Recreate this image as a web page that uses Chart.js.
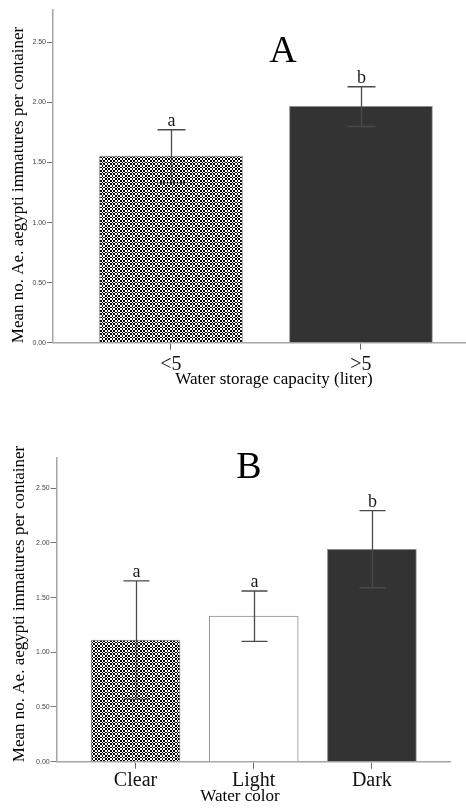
<!DOCTYPE html>
<html><head><meta charset="utf-8">
<script src="https://cdn.jsdelivr.net/npm/chart.js@4.4.1/dist/chart.umd.min.js"></script>
<style>
html,body{margin:0;padding:0;background:#fff;width:466px;height:808px;overflow:hidden}
canvas{position:absolute;left:0}
#cA{top:0}
#cB{top:400px}
</style></head>
<body>
<canvas id="cA" width="466" height="400"></canvas>
<canvas id="cB" width="466" height="408"></canvas>
<script>
// ---- Panel A data ----
const categoriesA = ['<5', '>5'];
const meansA = [1.553, 1.967];
const errLowA = [1.333, 1.800];
const errHighA = [1.773, 2.131];
const lettersA = ['a', 'b'];
const yTicksA = [0, 0.5, 1, 1.5, 2, 2.5];

// ---- Panel B data ----
const categoriesB = ['Clear', 'Light', 'Dark'];
const meansB = [1.112, 1.332, 1.941];
const errLowB = [0.570, 1.100, 1.590];
const errHighB = [1.652, 1.560, 2.294];
const lettersB = ['a', 'a', 'b'];
const yTicksB = [0, 0.5, 1, 1.5, 2, 2.5];

// ---- styles ----
function makeChecker(ctx) {
  const c = document.createElement('canvas');
  c.width = 10; c.height = 10;
  const g = c.getContext('2d');
  g.fillStyle = '#ffffff'; g.fillRect(0, 0, 10, 10);
  g.fillStyle = '#000000';
  const e = [0, 2, 3, 5, 7, 8, 10];
  for (let i = 0; i < 6; i++) for (let j = 0; j < 6; j++) {
    if ((i + j) % 2 === 0) g.fillRect(e[i], e[j], e[i + 1] - e[i], e[j + 1] - e[j]);
  }
  return ctx.createPattern(c, 'repeat');
}

const serif = '"Liberation Serif", "DejaVu Serif", serif';

const annot = {
  id: 'annot',
  afterDatasetsDraw(chart, args, o) {
    const ctx = chart.ctx, xs = chart.scales.x, ys = chart.scales.y;
    ctx.save();
    ctx.strokeStyle = '#4a4a4a';
    ctx.lineWidth = 1.3;
    o.low.forEach((lo, i) => {
      const px = Math.round(xs.getPixelForValue(i)) + 0.5;
      const yt = ys.getPixelForValue(o.high[i]);
      const yb = ys.getPixelForValue(lo);
      ctx.beginPath();
      ctx.moveTo(px, yt); ctx.lineTo(px, yb);
      ctx.moveTo(px - o.cap, yt); ctx.lineTo(px + o.cap, yt);
      ctx.moveTo(px - o.cap, yb); ctx.lineTo(px + o.cap, yb);
      ctx.stroke();
      ctx.fillStyle = '#1a1a1a';
      ctx.font = '18px ' + serif;
      ctx.textAlign = 'center';
      ctx.textBaseline = 'alphabetic';
      ctx.fillText(o.letters[i], px, yt - 4);
    });
    // panel letter
    ctx.fillStyle = '#000';
    ctx.font = '38px ' + serif;
    ctx.textAlign = 'center';
    ctx.textBaseline = 'alphabetic';
    ctx.fillText(o.panel, o.panelX, o.panelY);
    // axis titles
    ctx.font = '17px ' + serif;
    ctx.textBaseline = 'middle';
    ctx.fillText(o.xTitle, o.xTitleX, o.xTitleY);
    ctx.translate(o.yTitleX, o.yTitleY);
    ctx.rotate(-Math.PI / 2);
    ctx.fillText(o.yTitle, 0, 0);
    ctx.restore();
  }
};

function makeChart(id, cfg) {
  const ctx = document.getElementById(id).getContext('2d');
  const pat = makeChecker(ctx);
  const fills = cfg.fillKinds.map(k => k === 'checker' ? pat : k);
  return new Chart(ctx, {
    type: 'bar',
    data: {
      datasets: [{
        data: cfg.means.map((v, i) => ({ x: i, y: v })),
        backgroundColor: fills,
        borderColor: '#8c8c8c',
        borderWidth: 1,
        borderSkipped: 'bottom',
        barThickness: cfg.barThickness
      }]
    },
    options: {
      responsive: false,
      devicePixelRatio: 1,
      animation: false,
      layout: { padding: cfg.padding },
      plugins: {
        legend: { display: false },
        tooltip: { enabled: false },
        annot: {
          low: cfg.low, high: cfg.high, letters: cfg.letters, cap: cfg.cap,
          panel: cfg.panel, panelX: cfg.panelX, panelY: cfg.panelY,
          xTitle: cfg.xTitle, xTitleX: cfg.xTitleX, xTitleY: cfg.xTitleY,
          yTitle: 'Mean no. Ae. aegypti immatures per container',
          yTitleX: cfg.yTitleX, yTitleY: cfg.yTitleY
        }
      },
      scales: {
        x: {
          type: 'linear',
          min: cfg.xMin, max: cfg.xMax,
          offset: false,
          afterBuildTicks: s => { s.ticks = cfg.cats.map((c, i) => ({ value: i })); },
          afterFit: s => { s.height = cfg.xHeight; },
          ticks: {
            callback: v => cfg.cats[v],
            font: { family: serif, size: 20 },
            color: '#111',
            padding: cfg.xTickPad,
            maxRotation: 0, autoSkip: false
          },
          grid: { offset: false, drawOnChartArea: false, drawTicks: true, tickLength: 7, color: '#666', lineWidth: 1 },
          border: { color: '#a5a5a5', width: 1.5 }
        },
        y: {
          min: 0, max: cfg.yMax,
          afterBuildTicks: s => { s.ticks = cfg.yTicks.map(v => ({ value: v })); },
          afterFit: s => { s.width = cfg.yWidth; },
          ticks: {
            callback: v => Number(v).toFixed(2),
            font: { family: '"Liberation Sans", Arial, sans-serif', size: 7 },
            color: '#444',
            padding: 1
          },
          grid: { drawOnChartArea: false, drawTicks: true, tickLength: 6, color: '#777', lineWidth: 1 },
          border: { color: '#a5a5a5', width: 1.5 }
        }
      }
    },
    plugins: [annot]
  });
}

makeChart('cA', {
  cats: categoriesA, means: meansA, low: errLowA, high: errHighA, letters: lettersA, yTicks: yTicksA,
  fillKinds: ['checker', '#333333'],
  barThickness: 143, cap: 14,
  padding: { top: 10, left: 0, right: 0, bottom: 0 },
  xMin: -0.621, xMax: 1.553, yMax: 2.77,
  xHeight: 57.3, yWidth: 53, xTickPad: 3,
  panel: 'A', panelX: 283, panelY: 62,
  xTitle: 'Water storage capacity (liter)', xTitleX: 274, xTitleY: 380,
  yTitleX: 19, yTitleY: 185
});

makeChart('cB', {
  cats: categoriesB, means: meansB, low: errLowB, high: errHighB, letters: lettersB, yTicks: yTicksB,
  fillKinds: ['checker', '#ffffff', '#333333'],
  barThickness: 89, cap: 13,
  padding: { top: 57.3, left: 0, right: 16, bottom: 0 },
  xMin: -0.667, xMax: 2.661, yMax: 2.782,
  xHeight: 46.3, yWidth: 56.7, xTickPad: 0,
  panel: 'B', panelX: 249, panelY: 78,
  xTitle: 'Water color', xTitleX: 240, xTitleY: 397,
  yTitleX: 20, yTitleY: 204
});
</script>
</body></html>
